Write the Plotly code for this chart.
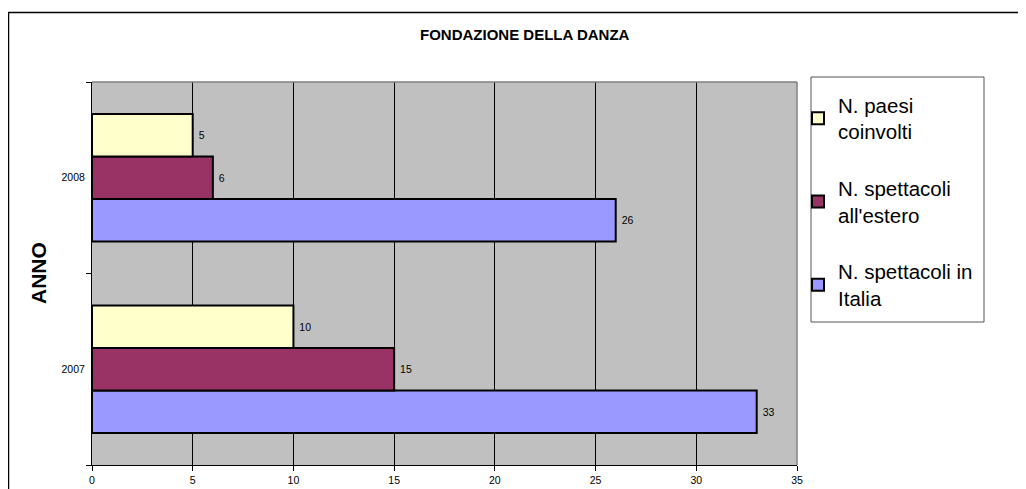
import plotly.graph_objects as go

categories = ["2007", "2008"]
series_names = ["N. spettacoli in<br>Italia", "N. spettacoli<br>all'estero", "N. paesi<br>coinvolti"]
italia = [33, 26]
estero = [15, 6]
paesi = [10, 5]
colors = ["#9999FF", "#993366", "#FFFFCC"]
x_ticks = [0, 5, 10, 15, 20, 25, 30, 35]

FONT = "Liberation Sans, Arial, sans-serif"

fig = go.Figure()
for i, (name, vals) in enumerate(zip(series_names, [italia, estero, paesi])):
    fig.add_trace(go.Bar(
        y=categories, x=vals, name=name, orientation="h",
        marker=dict(color=colors[i], line=dict(color="black", width=2)),
        text=vals, texttemplate=" %{x}", textposition="outside",
        textfont=dict(size=10.5, color="black", family=FONT),
        cliponaxis=False, legendgroup=f"g{i}", legendrank=3 - i,
    ))

# page is offset by the 8px body margin
OFF = 8
PL, PR, PT, PB = 92, 797, 82, 465   # plot area in page pixels
W, H = 1010, 481
L, T = PL - OFF, PT - OFF
pw, ph = PR - PL, PB - PT
R, B = W - L - pw, H - T - ph

def px(x):
    return (x - PL) / pw

def py(y):
    return (PB - y) / ph

fig.update_layout(
    width=W, height=H,
    margin=dict(l=L, r=R, t=T, b=B, pad=0, autoexpand=False),
    paper_bgcolor="white", plot_bgcolor="#C0C0C0",
    font=dict(family=FONT, color="black"),
    barmode="group", bargap=0.334, bargroupgap=0,
    showlegend=True,
    legend=dict(
        x=px(798), xanchor="left", y=py(85), yanchor="top",
        traceorder="grouped", tracegroupgap=27,
        font=dict(size=20.5, family=FONT, color="black"),
        bgcolor="rgba(0,0,0,0)", borderwidth=0,
    ),
    xaxis=dict(
        range=[0, 35], tickvals=x_ticks, ticks="outside", ticklen=5,
        tickcolor="black", showline=True, linecolor="black", linewidth=1,
        showgrid=True, gridcolor="black", gridwidth=1, zeroline=False,
        tickfont=dict(size=10.5), fixedrange=True, automargin=False,
    ),
    yaxis=dict(
        type="category", categoryorder="array", categoryarray=categories,
        ticks="outside", tickson="boundaries", ticklen=5, tickcolor="black",
        showline=True, linecolor="black", linewidth=1, showgrid=False,
        tickfont=dict(size=10.5), ticklabelstandoff=4, automargin=False,
    ),
    shapes=[
        dict(type="rect", xref="paper", yref="paper", x0=px(8.5), x1=px(1060),
             y0=py(520), y1=py(12.5), line=dict(color="black", width=1.5), layer="below"),
        dict(type="line", xref="paper", yref="paper", x0=0, x1=1, y0=1, y1=1,
             line=dict(color="#808080", width=1.5)),
        dict(type="line", xref="paper", yref="paper", x0=1, x1=1, y0=0, y1=1,
             line=dict(color="#808080", width=1.5)),
        dict(type="rect", xref="paper", yref="paper", x0=px(811), x1=px(984),
             y0=py(322), y1=py(77), line=dict(color="#555555", width=1)),
    ],
    annotations=[
        dict(text="<b>FONDAZIONE DELLA DANZA</b>", xref="paper", yref="paper",
             x=px(525), y=py(35), xanchor="center", yanchor="middle",
             showarrow=False, font=dict(size=15)),
        dict(text="<b>ANNO</b>", xref="paper", yref="paper", textangle=-90,
             x=px(38), y=py(273), xanchor="center", yanchor="middle",
             showarrow=False, font=dict(size=21)),
    ],
)

fig.write_html("out.html")
